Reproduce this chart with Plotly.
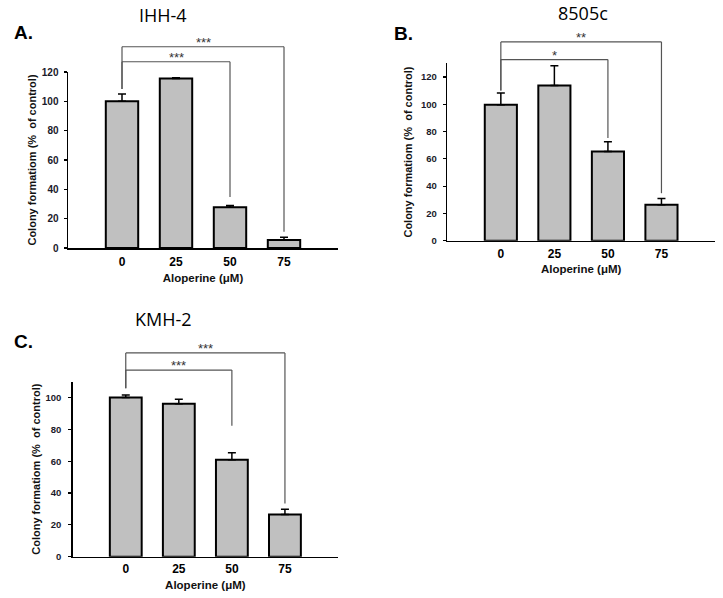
import plotly.graph_objects as go

categories = ["0", "25", "50", "75"]

# Panel A: IHH-4
a_values = [100, 115.5, 27.7, 5.5]
a_errors = [5.0, 0.5, 1.2, 1.8]
# Panel B: 8505c
b_values = [99.7, 113.7, 65.4, 26.4]
b_errors = [8.6, 14.5, 7.1, 4.5]
# Panel C: KMH-2
c_values = [100, 96.2, 61.0, 26.5]
c_errors = [1.6, 2.7, 4.3, 3.3]

# significance brackets: (left index, right index, height, left end, right end, label)
a_brackets = [(0, 2, 127.0, 108.4, 34.8, "***"), (0, 3, 137.2, 108.4, 11.1, "***")]
b_brackets = [(0, 2, 132.7, 110.0, 75.2, "*"), (0, 3, 145.7, 110.0, 34.8, "**")]
c_brackets = [(0, 2, 117.3, 105.9, 82.3, "***"), (0, 3, 128.1, 105.9, 33.4, "***")]

W, H = 723, 598


def px_x(v):
    return v / W


def px_y(v):
    return 1 - v / H


panels = [
    dict(name="IHH-4", tag="A.", vals=a_values, errs=a_errors, br=a_brackets, ymax=120,
         xd=[px_x(68), px_x(338)], yd=[px_y(248), px_y(72)], ax="", tx=163, ty=15, lx=12, ly=33,
         yfs=10, yts=3, ytitle=3, xts=2, xtitle=6),
    dict(name="8505c", tag="B.", vals=b_values, errs=b_errors, br=b_brackets, ymax=130,
         xd=[px_x(447.3), px_x(715)], yd=[px_y(240.7), px_y(63.3)], ax="2", tx=583, ty=13, lx=392, ly=34,
         yfs=9.5, yts=4, ytitle=6, xts=1, xtitle=5),
    dict(name="KMH-2", tag="C.", vals=c_values, errs=c_errors, br=c_brackets, ymax=110,
         xd=[px_x(72.7), px_x(338)], yd=[px_y(556.7), px_y(381.7)], ax="3", tx=163, ty=319, lx=12, ly=342,
         yfs=9.5, yts=5, ytitle=2, xts=0, xtitle=6),
]

fig = go.Figure()
shapes = []
annotations = []
layout = dict(
    width=W, height=H, margin=dict(l=0, r=0, t=0, b=0, autoexpand=False),
    paper_bgcolor="white", plot_bgcolor="white", showlegend=False,
    font=dict(family="Liberation Sans, Arial", color="black"),
)

for p in panels:
    xa = "x" + p["ax"]
    ya = "y" + p["ax"]
    fig.add_trace(go.Bar(
        x=categories, y=p["vals"], xaxis=xa, yaxis=ya, width=0.6,
        marker=dict(color="#c0c0c0", line=dict(color="black", width=2)),
        error_y=dict(type="data", symmetric=False, array=p["errs"], arrayminus=[0] * 4,
                     color="black", thickness=1.5, width=4),
    ))
    layout["xaxis" + p["ax"]] = dict(
        domain=p["xd"], anchor=ya, type="category", categoryorder="array", categoryarray=categories,
        range=[-1, 4], showline=True, linecolor="black", linewidth=1.5, ticks="", showgrid=False,
        zeroline=False, automargin=False,
        tickfont=dict(size=12, family="Liberation Sans", color="black", weight="bold"),
        ticklabelstandoff=p["xts"],
        title=dict(text="<b>Aloperine (μM)</b>", font=dict(size=11.5, family="Liberation Sans", color="#111"),
                   standoff=p["xtitle"]),
        fixedrange=True,
    )
    layout["yaxis" + p["ax"]] = dict(
        domain=p["yd"], anchor=xa, range=[0, p["ymax"]], tickvals=list(range(0, p["ymax"] + 1, 20)),
        showline=True, linecolor="black", linewidth=1.5, ticks="outside", ticklen=3, tickwidth=1.2,
        tickcolor="black", showgrid=False, zeroline=False, automargin=False,
        tickfont=dict(size=p["yfs"], family="Liberation Sans", color="#1a1a2a", weight="bold"),
        ticklabelstandoff=p["yts"],
        title=dict(text="<b>Colony formatiom (%  of control)</b>", font=dict(size=11, family="Liberation Sans", color="#111"),
                   standoff=p["ytitle"]),
        fixedrange=True,
    )
    yd_ref = ya + " domain"
    for (i0, i1, h, e0, e1, lab) in p["br"]:
        line = dict(color="#555555", width=1.2)
        shapes.append(dict(type="line", xref=xa, yref=yd_ref, x0=i0, x1=i0, y0=e0 / p["ymax"], y1=h / p["ymax"], line=line))
        shapes.append(dict(type="line", xref=xa, yref=yd_ref, x0=i0, x1=i1, y0=h / p["ymax"], y1=h / p["ymax"], line=line))
        shapes.append(dict(type="line", xref=xa, yref=yd_ref, x0=i1, x1=i1, y0=e1 / p["ymax"], y1=h / p["ymax"], line=line))
        annotations.append(dict(text=lab, xref=xa, yref=yd_ref, x=(i0 + i1) / 2, y=h / p["ymax"],
                                xanchor="center", yanchor="bottom", yshift=-5, showarrow=False,
                                font=dict(size=13, family="Liberation Sans", color="#333")))
    annotations.append(dict(text=p["name"], xref="paper", yref="paper", x=px_x(p["tx"]), y=px_y(p["ty"]),
                            xanchor="center", yanchor="middle", showarrow=False,
                            font=dict(size=18, family="Open Sans", color="black")))
    annotations.append(dict(text="<b>" + p["tag"] + "</b>", xref="paper", yref="paper", x=px_x(p["lx"]), y=px_y(p["ly"]),
                            xanchor="left", yanchor="middle", showarrow=False,
                            font=dict(size=19, family="Liberation Sans", color="black")))

layout["shapes"] = shapes
layout["annotations"] = annotations
fig.update_layout(**layout)
fig.write_html("out.html", config={"displayModeBar": False, "staticPlot": True},
               post_script="document.body.style.margin='0';")
